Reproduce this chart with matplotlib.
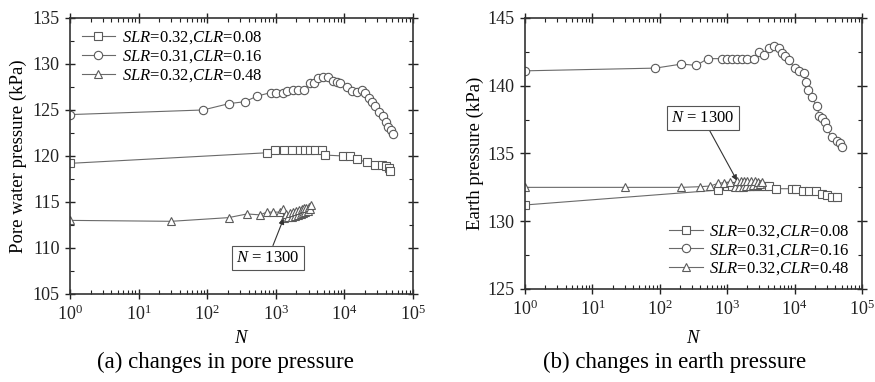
import matplotlib
matplotlib.use("Agg")
import matplotlib.pyplot as plt
from matplotlib.ticker import MultipleLocator, LogLocator, NullFormatter

plt.rcParams['font.family'] = ['Liberation Serif', 'DejaVu Serif']
plt.rcParams['mathtext.fontset'] = 'custom'
plt.rcParams['mathtext.rm'] = 'Liberation Serif'
plt.rcParams['mathtext.it'] = 'Liberation Serif:italic'

# (a) pore water pressure
pore_sq_n = [1, 740, 980, 1320, 1700, 2240, 2690, 3160, 3720, 4680, 5250, 9600,
             12000, 15100, 21000, 28000, 35300, 40500, 44000, 46500]
pore_sq = [119.2, 120.35, 120.6, 120.6, 120.6, 120.6, 120.6, 120.6, 120.6, 120.6,
           120.1, 120.0, 120.0, 119.7, 119.3, 119.0, 119.0, 118.9, 118.7, 118.4]

pore_ci_n = [1, 87, 210, 355, 530, 850, 1020, 1260, 1480, 1780, 2140, 2570, 3160,
             3550, 4170, 4900, 5860, 6900, 7900, 8700, 11000, 12900, 15100, 18000,
             20000, 22500, 25000, 28000, 31500, 36000, 40500, 43500, 47500, 51000]
pore_ci = [124.5, 125.0, 125.7, 125.9, 126.5, 126.9, 126.9, 126.9, 127.1, 127.2,
           127.2, 127.2, 127.9, 127.9, 128.5, 128.6, 128.6, 128.2, 128.0, 127.9,
           127.5, 127.1, 127.0, 127.2, 126.8, 126.3, 125.9, 125.4, 124.8, 124.3,
           123.7, 123.2, 122.8, 122.4]

pore_tr_n = [1, 30, 205, 380, 590, 740, 910, 1150, 1280, 1330, 1400, 1500, 1600,
             1700, 1800, 1900, 2000, 2100, 2200, 2300, 2400, 2500, 2600, 2700, 2800,
             2900, 3000, 3100, 3300]
pore_tr = [113.0, 112.9, 113.3, 113.7, 113.6, 113.9, 113.9, 113.9, 114.2, 113.3,
           113.7, 113.35, 113.8, 113.4, 113.9, 113.5, 114.0, 113.6, 114.1, 113.7,
           114.2, 113.8, 114.3, 113.9, 114.4, 114.0, 114.5, 114.2, 114.7]

# (b) earth pressure
earth_sq_n = [1, 740, 1000, 1200, 1450, 1700, 2000, 2350, 2700, 3100, 3600, 4170,
              5250, 9100, 10700, 13500, 16200, 20500, 25700, 30000, 35500, 42500]
earth_sq = [131.2, 132.3, 132.6, 132.6, 132.6, 132.6, 132.6, 132.6, 132.6, 132.6,
            132.6, 132.6, 132.4, 132.4, 132.4, 132.2, 132.2, 132.2, 132.0, 131.95,
            131.8, 131.8]

earth_ci_n = [1, 86, 210, 350, 515, 830, 990, 1180, 1410, 1660, 2000, 2500, 3000,
              3470, 4170, 4900, 5800, 6500, 7300, 8200, 10000, 11500, 13800, 14800,
              15900, 17900, 21400, 23400, 25500, 28000, 30000, 35500, 42500, 48000,
              50000]
earth_ci = [141.1, 141.3, 141.6, 141.5, 142.0, 142.0, 142.0, 142.0, 142.0, 142.0,
            142.0, 142.0, 142.5, 142.3, 142.75, 142.9, 142.75, 142.4, 142.2, 141.9,
            141.3, 141.1, 140.95, 140.3, 139.7, 139.2, 138.5, 137.8, 137.6, 137.3,
            136.9, 136.2, 135.9, 135.8, 135.5]

earth_tr_n = [1, 31, 210, 400, 560, 740, 910, 1110, 1300, 1400, 1500, 1600, 1700,
              1800, 1900, 2000, 2150, 2300, 2450, 2600, 2750, 2900, 3050, 3250]
earth_tr = [132.5, 132.5, 132.5, 132.55, 132.6, 132.8, 132.85, 132.9, 132.5, 133.0,
            132.55, 133.0, 132.55, 133.0, 132.6, 133.0, 132.6, 132.95, 132.65, 132.95,
            132.7, 132.9, 132.75, 132.9]

labels = [r'$SLR$=0.32,$CLR$=0.08', r'$SLR$=0.31,$CLR$=0.16', r'$SLR$=0.32,$CLR$=0.48']

line_c = '#6a6a6a'
mark_c = '#5a5a5a'
style = dict(color=line_c, lw=0.8, mfc='white', mec=mark_c, mew=0.8)

fig = plt.figure(figsize=(8.75, 3.82), dpi=100)
ax1 = fig.add_axes([0.08, 0.2304, 0.392, 0.7225])
ax2 = fig.add_axes([0.6, 0.2435, 0.385, 0.7094])


def dress(ax, ylo, yhi):
    ax.set_xscale('log')
    ax.set_xlim(1, 1e5)
    ax.set_ylim(ylo, yhi)
    ax.yaxis.set_major_locator(MultipleLocator(5))
    ax.yaxis.set_minor_locator(MultipleLocator(2.5))
    ax.xaxis.set_major_locator(LogLocator(base=10, numticks=10))
    ax.xaxis.set_minor_locator(LogLocator(base=10, subs=range(2, 10), numticks=20))
    ax.xaxis.set_minor_formatter(NullFormatter())
    ax.tick_params(which='major', direction='inout', length=7, width=1,
                   top=True, right=True, labelsize=13, colors='#222222', pad=4)
    ax.tick_params(which='minor', direction='in', length=3, width=0.8,
                   top=True, right=True, colors='#222222')
    for s in ax.spines.values():
        s.set_linewidth(1.2)
        s.set_color('#333333')
    ax.set_xlabel(r'$N$', fontsize=13.5)


# panel (a)
ax1.plot(pore_sq_n, pore_sq, marker='s', ms=5.5, label=labels[0], **style)
ax1.plot(pore_ci_n, pore_ci, marker='o', ms=6, label=labels[1], **style)
ax1.plot(pore_tr_n, pore_tr, marker='^', ms=6, label=labels[2], **style)
dress(ax1, 105, 135)
ax1.set_ylabel('Pore water pressure (kPa)', fontsize=13.5)
ax1.yaxis.set_label_coords(-0.125, 0.5)
ax1.xaxis.set_label_coords(0.5, -0.13)
ax1.legend(loc='upper left', frameon=False, fontsize=12, handlelength=2.0,
           labelspacing=0.12, handletextpad=0.4, borderaxespad=0.3)
ax1.annotate(r'$N$ = 1300', xy=(1300, 113.2), xytext=(770, 108.9),
             fontsize=12, ha='center', va='center',
             bbox=dict(boxstyle='square,pad=0.25', fc='white', ec='#555555', lw=0.8),
             arrowprops=dict(arrowstyle='-|>', color='#333333', lw=0.8,
                             mutation_scale=8, shrinkA=0, shrinkB=0))

# panel (b)
ax2.plot(earth_sq_n, earth_sq, marker='s', ms=5.5, label=labels[0], **style)
ax2.plot(earth_ci_n, earth_ci, marker='o', ms=6, label=labels[1], **style)
ax2.plot(earth_tr_n, earth_tr, marker='^', ms=6, label=labels[2], **style)
dress(ax2, 125, 145)
ax2.set_ylabel('Earth pressure (kPa)', fontsize=13.5)
ax2.yaxis.set_label_coords(-0.122, 0.5)
ax2.xaxis.set_label_coords(0.5, -0.15)
ax2.legend(loc='lower right', frameon=False, fontsize=12, handlelength=2.0,
           labelspacing=0.12, handletextpad=0.4, borderaxespad=0.3)
ax2.annotate(r'$N$ = 1300', xy=(1400, 133.0), xytext=(437, 137.6),
             fontsize=12, ha='center', va='center',
             bbox=dict(boxstyle='square,pad=0.25', fc='white', ec='#555555', lw=0.8),
             arrowprops=dict(arrowstyle='-|>', color='#333333', lw=0.8,
                             mutation_scale=8, shrinkA=0, shrinkB=0))

fig.text(225 / 875, 1 - 362 / 382, '(a) changes in pore pressure',
         fontsize=16.5, ha='center', va='center')
fig.text(675 / 875, 1 - 362 / 382, '(b) changes in earth pressure',
         fontsize=16.5, ha='center', va='center')

fig.savefig('out.png', dpi=100)
plt.close(fig)
